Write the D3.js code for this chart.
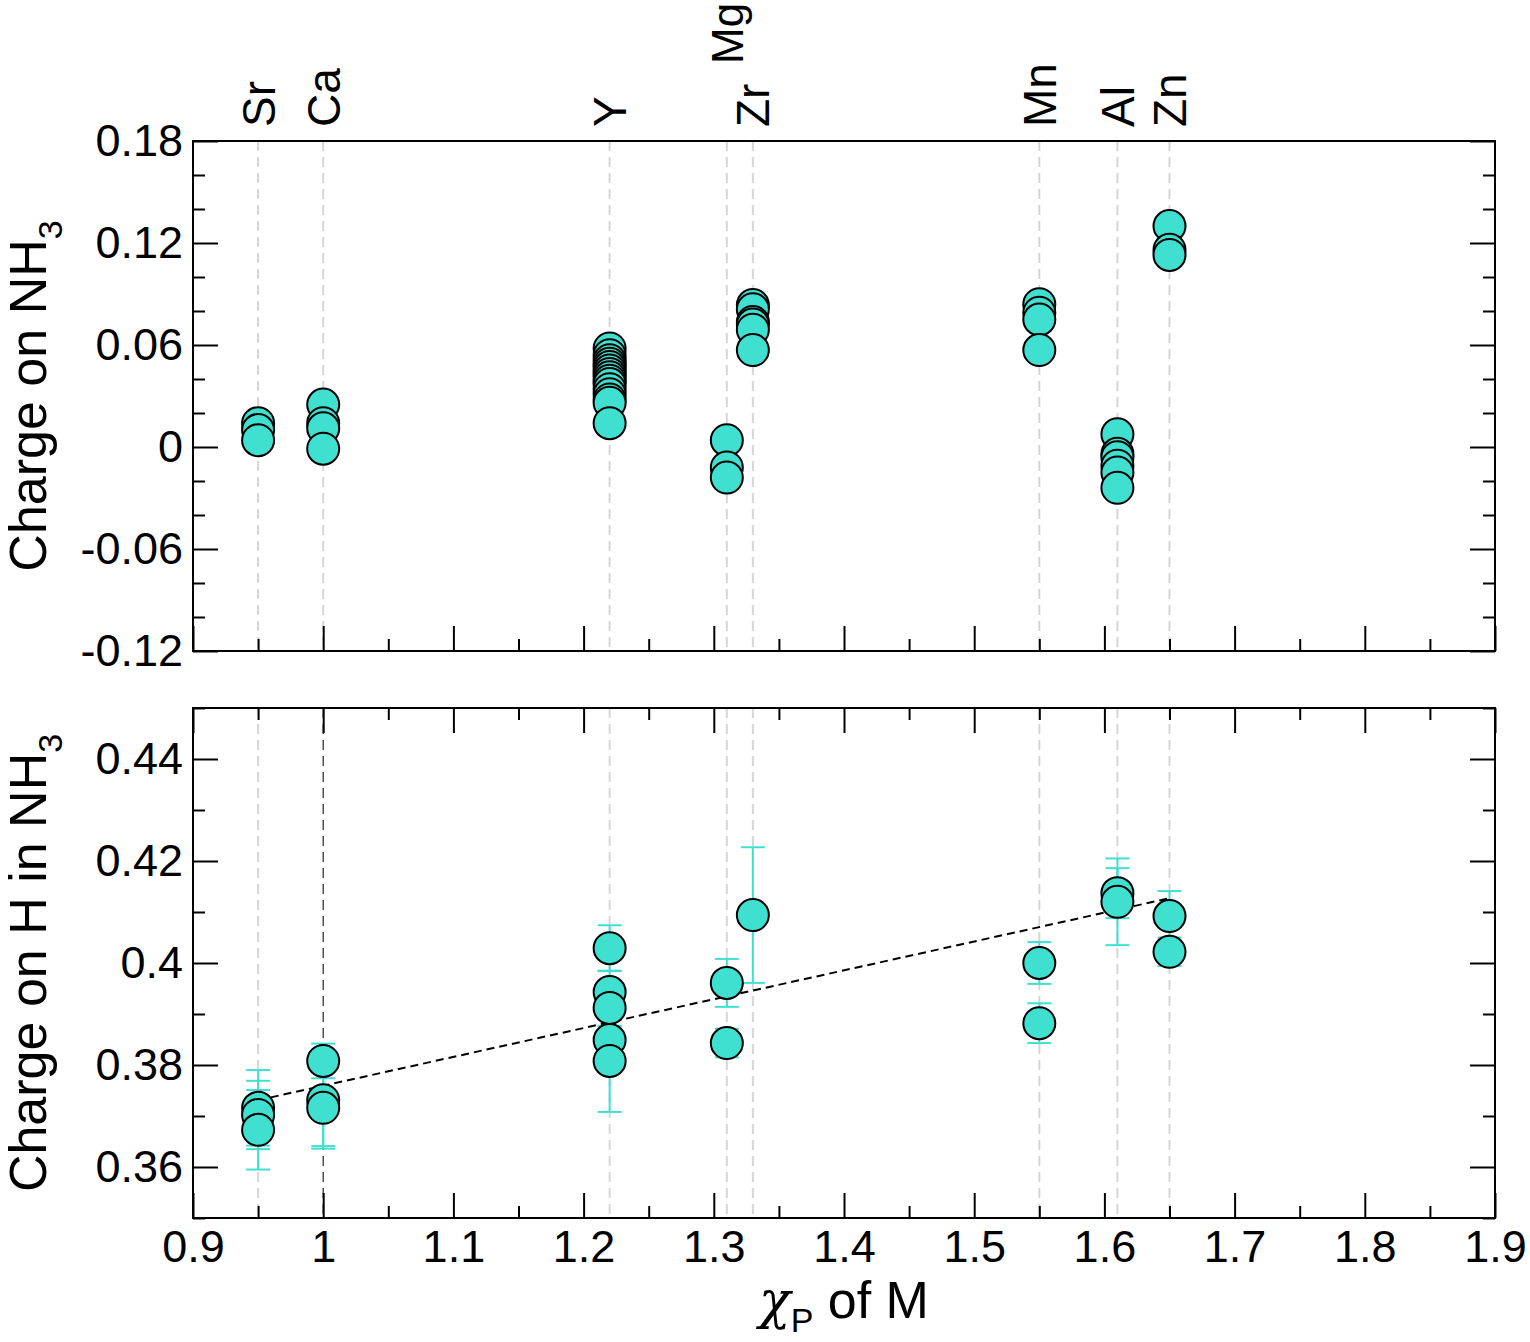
<!DOCTYPE html>
<html>
<head>
<meta charset="utf-8">
<script src="https://cdn.jsdelivr.net/npm/d3@7"></script>
<style>
  body { margin: 0; background: #fff; }
  svg { display: block; font-family: "Liberation Sans", Arial, Helvetica, sans-serif; }
</style>
</head>
<body>
<svg id="chart" width="1530" height="1342"></svg>
<script>
// ---------- data ----------
const elements = ["Sr", "Ca", "Y", "Mg", "Zr", "Mn", "Al", "Zn"];
const chiP = [0.95, 1.00, 1.22, 1.31, 1.33, 1.55, 1.61, 1.65];

// Top panel: charge on NH3 (several configurations per element)
const chargeNH3 = [
  [0.014, 0.010, 0.004],
  [0.025, 0.014, 0.011, -0.001],
  [0.058, 0.054, 0.051, 0.049, 0.047, 0.045, 0.043, 0.041, 0.039, 0.037, 0.034, 0.031, 0.028, 0.026, 0.014],
  [0.004, -0.012, -0.018],
  [0.0835, 0.081, 0.0735, 0.072, 0.069, 0.057],
  [0.084, 0.079, 0.075, 0.057],
  [0.0075, -0.004, -0.006, -0.011, -0.015, -0.024],
  [0.130, 0.116, 0.113]
];

// Bottom panel: charge on H in NH3 with error bars
const chargeH = [
  [0.3716, 0.3702, 0.3673],
  [0.3808, 0.3731, 0.3716],
  [0.4029, 0.3943, 0.3912, 0.3849, 0.3808],
  [0.3961, 0.3843],
  [0.4094],
  [0.4000, 0.3882],
  [0.4137, 0.4120],
  [0.4092, 0.4022]
];
const chargeHErr = [
  [0.0074, 0.0067, 0.0078],
  [0.0034, 0.0090, 0.0080],
  [0.0045, 0.0042, 0.0035, 0.0027, 0.0100],
  [0.0047, 0.0028],
  [0.0133],
  [0.0041, 0.0039],
  [0.0049, 0.0085],
  [0.0049, 0.0028]
];

// Linear fit line (bottom panel)
const fitX = [0.95, 1.65];
const fitY = [0.3731, 0.4127];

// Ticks
const xTicks = [0.9, 1.0, 1.1, 1.2, 1.3, 1.4, 1.5, 1.6, 1.7, 1.8, 1.9];
const xTickLabels = ["0.9", "1", "1.1", "1.2", "1.3", "1.4", "1.5", "1.6", "1.7", "1.8", "1.9"];
const xMinor = [0.95, 1.05, 1.15, 1.25, 1.35, 1.45, 1.55, 1.65, 1.75, 1.85];
const yTopTicks = [-0.12, -0.06, 0, 0.06, 0.12, 0.18];
const yTopLabels = ["-0.12", "-0.06", "0", "0.06", "0.12", "0.18"];
const yTopMinor = [-0.10, -0.08, -0.04, -0.02, 0.02, 0.04, 0.08, 0.10, 0.14, 0.16];
const yBotTicks = [0.36, 0.38, 0.40, 0.42, 0.44];
const yBotLabels = ["0.36", "0.38", "0.4", "0.42", "0.44"];
const yBotMinor = [0.35, 0.37, 0.39, 0.41, 0.43, 0.45];

// ---------- layout ----------
const L = 193, R = 1495;
const topPanel = { t: 141, b: 651 };
const botPanel = { t: 708, b: 1218 };
const fill = "#40E0D0";
const tickFont = 45;
const svg = d3.select("#chart");

const x = d3.scaleLinear().domain([0.9, 1.9]).range([L, R]);
const yTop = d3.scaleLinear().domain([-0.12, 0.18]).range([topPanel.b, topPanel.t]);
const yBot = d3.scaleLinear().domain([0.35, 0.45]).range([botPanel.b, botPanel.t]);

function styleAxis(g) {
  g.select(".domain").remove();
  g.selectAll(".tick line").attr("stroke", "#000").attr("stroke-width", 2);
  g.selectAll(".tick text").attr("fill", "#000").attr("font-size", tickFont)
    .attr("font-family", '"Liberation Sans", Arial, sans-serif');
}

function guides(panel, darkCa) {
  const g = svg.append("g");
  g.selectAll("line").data(chiP).join("line")
    .attr("x1", d => x(d)).attr("x2", d => x(d))
    .attr("y1", panel.t).attr("y2", panel.b)
    .attr("stroke", (d, i) => (darkCa && elements[i] === "Ca") ? "#222" : "#d6d6d6")
    .attr("stroke-width", (d, i) => (darkCa && elements[i] === "Ca") ? 1.2 : 2)
    .attr("stroke-dasharray", "10,6");
}

function frameAxes(panel, yScale, yTicks, yLabels, yMinor, opts) {
  // left
  svg.append("g").attr("transform", `translate(${L},0)`)
    .call(d3.axisLeft(yScale).tickValues(yTicks).tickSize(-25).tickPadding(10)
      .tickFormat((d, i) => yLabels[i])).call(styleAxis);
  svg.append("g").attr("transform", `translate(${L},0)`)
    .call(d3.axisLeft(yScale).tickValues(yMinor).tickSize(-12).tickFormat("")).call(styleAxis);
  // right
  svg.append("g").attr("transform", `translate(${R},0)`)
    .call(d3.axisRight(yScale).tickValues(yTicks).tickSize(-25).tickFormat("")).call(styleAxis);
  svg.append("g").attr("transform", `translate(${R},0)`)
    .call(d3.axisRight(yScale).tickValues(yMinor).tickSize(-12).tickFormat("")).call(styleAxis);
  // bottom
  svg.append("g").attr("transform", `translate(0,${panel.b})`)
    .call(d3.axisBottom(x).tickValues(xTicks).tickSize(-25).tickPadding(12)
      .tickFormat((d, i) => opts.xLabels ? xTickLabels[i] : "")).call(styleAxis);
  svg.append("g").attr("transform", `translate(0,${panel.b})`)
    .call(d3.axisBottom(x).tickValues(xMinor).tickSize(-12).tickFormat("")).call(styleAxis);
  if (opts.topTicks) {
    svg.append("g").attr("transform", `translate(0,${panel.t})`)
      .call(d3.axisTop(x).tickValues(xTicks).tickSize(-25).tickFormat("")).call(styleAxis);
    svg.append("g").attr("transform", `translate(0,${panel.t})`)
      .call(d3.axisTop(x).tickValues(xMinor).tickSize(-12).tickFormat("")).call(styleAxis);
  }
  svg.append("rect").attr("x", L).attr("y", panel.t)
    .attr("width", R - L).attr("height", panel.b - panel.t)
    .attr("fill", "none").attr("stroke", "#000").attr("stroke-width", 2);
}

// ---------- top panel ----------
guides(topPanel, false);
frameAxes(topPanel, yTop, yTopTicks, yTopLabels, yTopMinor, { xLabels: false, topTicks: false });

const topPts = [];
chargeNH3.forEach((arr, i) => arr.forEach(v => topPts.push({ x: chiP[i], y: v })));
svg.append("g").selectAll("circle").data(topPts).join("circle")
  .attr("cx", d => x(d.x)).attr("cy", d => yTop(d.y)).attr("r", 16)
  .attr("fill", fill).attr("stroke", "#000").attr("stroke-width", 2);

// element labels (rotated), staggered when too close to next one
const labG = svg.append("g");
elements.forEach((el, i) => {
  const next = chiP[i + 1];
  const raised = next !== undefined && (next - chiP[i]) < 0.03;
  const y0 = raised ? 64 : 127;
  labG.append("text")
    .attr("transform", `translate(${x(chiP[i])},${y0}) rotate(-90)`)
    .attr("dy", "0.36em")
    .attr("font-size", raised ? 44 : 46)
    .attr("fill", "#000")
    .text(el);
});

// y title top
const t1 = svg.append("text")
  .attr("transform", `translate(46,${(topPanel.t + topPanel.b) / 2}) rotate(-90)`)
  .attr("text-anchor", "middle").attr("font-size", 52).attr("fill", "#000");
t1.append("tspan").text("Charge on NH");
t1.append("tspan").attr("font-size", 34).attr("dy", 16).text("3");

// ---------- bottom panel ----------
guides(botPanel, true);
frameAxes(botPanel, yBot, yBotTicks, yBotLabels, yBotMinor, { xLabels: true, topTicks: true });

const botPts = [];
chargeH.forEach((arr, i) => arr.forEach((v, j) => botPts.push({ x: chiP[i], y: v, e: chargeHErr[i][j] })));

const eg = svg.append("g").attr("stroke", fill).attr("stroke-width", 2);
botPts.forEach(d => {
  const cx = x(d.x), y1 = yBot(d.y + d.e), y2 = yBot(d.y - d.e);
  eg.append("line").attr("x1", cx).attr("x2", cx).attr("y1", y1).attr("y2", y2);
  eg.append("line").attr("x1", cx - 12).attr("x2", cx + 12).attr("y1", y1).attr("y2", y1);
  eg.append("line").attr("x1", cx - 12).attr("x2", cx + 12).attr("y1", y2).attr("y2", y2);
});

svg.append("line")
  .attr("x1", x(fitX[0])).attr("y1", yBot(fitY[0]))
  .attr("x2", x(fitX[1])).attr("y2", yBot(fitY[1]))
  .attr("stroke", "#000").attr("stroke-width", 2).attr("stroke-dasharray", "8,5");

svg.append("g").selectAll("circle").data(botPts).join("circle")
  .attr("cx", d => x(d.x)).attr("cy", d => yBot(d.y)).attr("r", 16)
  .attr("fill", fill).attr("stroke", "#000").attr("stroke-width", 2);

// y title bottom
const t2 = svg.append("text")
  .attr("transform", `translate(46,${(botPanel.t + botPanel.b) / 2}) rotate(-90)`)
  .attr("text-anchor", "middle").attr("font-size", 52).attr("fill", "#000");
t2.append("tspan").text("Charge on H in NH");
t2.append("tspan").attr("font-size", 34).attr("dy", 16).text("3");

// x title
const xt = svg.append("text")
  .attr("x", (L + R) / 2).attr("y", 1318)
  .attr("text-anchor", "middle").attr("font-size", 52).attr("fill", "#000");
xt.append("tspan").attr("font-family", '"DejaVu Serif", serif').attr("font-style", "italic").text("χ");
xt.append("tspan").attr("font-size", 34).attr("dy", 14).text("P");
xt.append("tspan").attr("dy", -14).text(" of M");
</script>
</body>
</html>
